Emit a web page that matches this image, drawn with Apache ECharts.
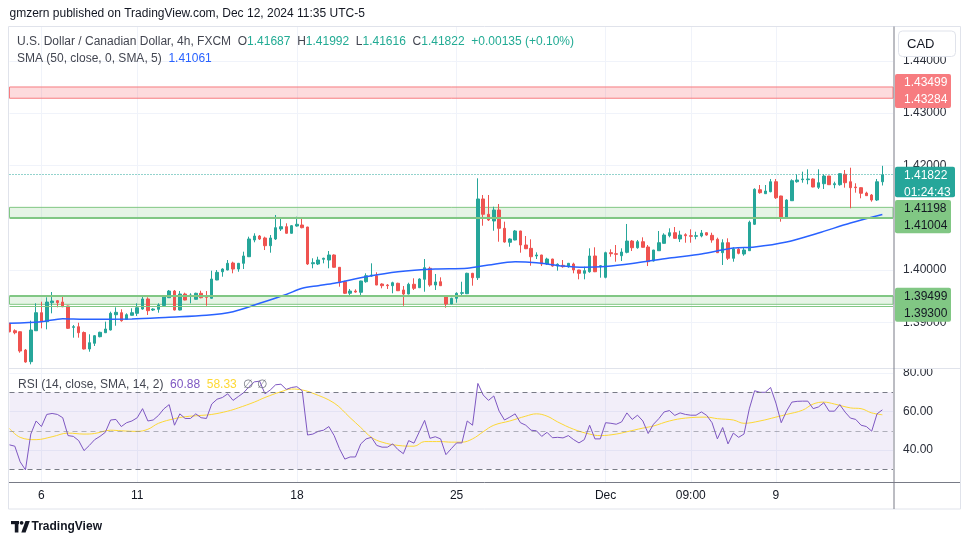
<!DOCTYPE html>
<html>
<head>
<meta charset="utf-8">
<script src="https://cdn.jsdelivr.net/npm/echarts@6/dist/echarts.min.js"></script>
<style>
html,body{margin:0;padding:0;background:#ffffff;}
#c{width:970px;height:545px;}
</style>
</head>
<body>
<div id="c"></div>
<script>
// ---------------- data ----------------
const slotCount = 167; // bar slots on the time axis (165 bars + right margin)
const categories = Array.from({length: slotCount}, (_, i) => String(i));
const tickIndex = [6, 24, 54, 84, 112, 128, 144];
const tickLabels = ['6', '11', '18', '25', 'Dec', '09:00', '9'];
const priceTicks = [1.39, 1.40, 1.41, 1.42, 1.43, 1.44];
const rsiTicks = [40, 60, 80];

const open = [1.38981,1.38839,1.38820,1.38470,1.38247,1.38839,1.39184,1.39012,1.39375,1.39413,
1.39388,1.39312,1.38904,1.38916,1.38805,1.38490,1.38599,1.38725,1.38801,1.38853,
1.39145,1.39184,1.39057,1.39134,1.39172,1.39254,1.39446,1.39235,1.39249,1.39321,
1.39470,1.39598,1.39235,1.39541,1.39503,1.39440,1.39555,1.39490,1.39459,1.39809,
1.39967,1.40000,1.40134,1.40019,1.40128,1.40254,1.40574,1.40650,1.40612,1.40465,
1.40593,1.40784,1.40828,1.40702,1.40841,1.40860,1.40822,1.40120,1.40115,1.40205,
1.40191,1.40287,1.40052,1.39776,1.39555,1.39598,1.39574,1.39776,1.39885,1.39891,
1.39732,1.39713,1.39700,1.39746,1.39618,1.39541,1.39727,1.39662,1.39822,1.40033,
1.39713,1.39776,1.39490,1.39350,1.39459,1.39555,1.39547,1.39937,1.39853,1.41358,
1.41065,1.40937,1.41147,1.40797,1.40530,1.40574,1.40746,1.40478,1.40414,1.40268,
1.40287,1.40115,1.40210,1.40076,1.40090,1.40063,1.40115,1.40000,1.39937,1.39967,
1.40268,1.40063,1.39860,1.40331,1.40312,1.40273,1.40338,1.40554,1.40426,1.40541,
1.40440,1.40172,1.40369,1.40510,1.40656,1.40713,1.40593,1.40675,1.40656,1.40644,
1.40650,1.40713,1.40663,1.40587,1.40331,1.40522,1.40224,1.40396,1.40306,1.40369,
1.40874,1.41535,1.41459,1.41497,1.41688,1.41415,1.40989,1.41325,1.41688,1.41727,
1.41727,1.41740,1.41581,1.41650,1.41797,1.41631,1.41631,1.41830,1.41688,1.41587,
1.41574,1.41472,1.41434,1.41338,1.41687];

const high = [1.38990,1.38866,1.38825,1.38490,1.39031,1.39363,1.39394,1.39478,1.39579,1.39426,
1.39490,1.39318,1.38948,1.38992,1.38825,1.38771,1.38757,1.38820,1.39012,1.39203,
1.39287,1.39249,1.39172,1.39268,1.39363,1.39503,1.39478,1.39268,1.39363,1.39490,
1.39618,1.39618,1.39598,1.39566,1.39555,1.39566,1.39604,1.39598,1.39987,1.40000,
1.40033,1.40191,1.40159,1.40135,1.40350,1.40637,1.40702,1.40669,1.40637,1.40669,
1.41052,1.40989,1.40893,1.40860,1.41019,1.41000,1.40825,1.40224,1.40254,1.40235,
1.40363,1.40300,1.40055,1.39795,1.39637,1.39631,1.39795,1.39937,1.40128,1.39956,
1.39746,1.39732,1.39776,1.39757,1.39694,1.39757,1.39841,1.39841,1.40210,1.40063,
1.39924,1.39860,1.39495,1.39470,1.39574,1.39776,1.39948,1.39945,1.41753,1.41434,
1.41434,1.41210,1.41262,1.40924,1.40606,1.40765,1.40750,1.40650,1.40587,1.40338,
1.40290,1.40235,1.40215,1.40128,1.40191,1.40135,1.40140,1.40005,1.40063,1.40415,
1.40434,1.40096,1.40350,1.40396,1.40478,1.40415,1.40880,1.40574,1.40574,1.40625,
1.40478,1.40385,1.40746,1.40702,1.40797,1.40822,1.40751,1.40702,1.40778,1.40732,
1.40765,1.40720,1.40713,1.40618,1.40587,1.40606,1.40434,1.40434,1.40434,1.40943,
1.41562,1.41625,1.41625,1.41740,1.41740,1.41420,1.41352,1.41734,1.41830,1.41880,
1.41925,1.41753,1.41925,1.41830,1.41800,1.41688,1.41849,1.41912,1.41956,1.41658,
1.41580,1.41497,1.41453,1.41740,1.41992];

const low = [1.38810,1.38771,1.38419,1.38228,1.38197,1.38835,1.38885,1.38866,1.39172,1.39287,
1.39290,1.38872,1.38706,1.38706,1.38480,1.38438,1.38547,1.38713,1.38795,1.38845,
1.38935,1.39012,1.39050,1.39130,1.39120,1.39241,1.39140,1.39216,1.39184,1.39315,
1.39465,1.39228,1.39228,1.39420,1.39363,1.39435,1.39459,1.39317,1.39455,1.39805,
1.39872,1.39995,1.39937,1.39967,1.40019,1.40250,1.40530,1.40574,1.40382,1.40331,
1.40574,1.40746,1.40695,1.40695,1.40828,1.40797,1.40096,1.40033,1.40096,1.40128,
1.40033,1.40045,1.39681,1.39541,1.39522,1.39566,1.39509,1.39757,1.39872,1.39710,
1.39650,1.39637,1.39555,1.39598,1.39317,1.39535,1.39618,1.39655,1.39585,1.39681,
1.39618,1.39695,1.39279,1.39345,1.39375,1.39522,1.39540,1.39700,1.39809,1.40847,
1.40937,1.40751,1.40541,1.40522,1.40445,1.40568,1.40331,1.40400,1.40082,1.40210,
1.40076,1.40096,1.40063,1.39987,1.40044,1.40044,1.39937,1.39822,1.39822,1.39948,
1.39960,1.39853,1.39841,1.40254,1.40159,1.40172,1.40319,1.40363,1.40407,1.40430,
1.40076,1.40165,1.40365,1.40505,1.40625,1.40600,1.40535,1.40522,1.40522,1.40587,
1.40625,1.40656,1.40522,1.40325,1.40096,1.40191,1.40159,1.40300,1.40273,1.40365,
1.40860,1.41459,1.41453,1.41486,1.41358,1.40924,1.40985,1.41320,1.41669,1.41669,
1.41639,1.41581,1.41549,1.41549,1.41625,1.41562,1.41612,1.41574,1.41180,1.41478,
1.41371,1.41415,1.41306,1.41319,1.41616];

const close = [1.38820,1.38801,1.38451,1.38241,1.38853,1.39184,1.39012,1.39388,1.39407,1.39375,
1.39298,1.38885,1.38916,1.38801,1.38490,1.38610,1.38744,1.38809,1.38872,1.39172,
1.39191,1.39031,1.39145,1.39184,1.39279,1.39446,1.39222,1.39254,1.39331,1.39484,
1.39598,1.39235,1.39541,1.39426,1.39522,1.39555,1.39470,1.39478,1.39828,1.39956,
1.40019,1.40128,1.40019,1.40128,1.40268,1.40593,1.40650,1.40593,1.40465,1.40612,
1.40809,1.40828,1.40702,1.40847,1.40874,1.40809,1.40115,1.40140,1.40191,1.40224,
1.40287,1.40052,1.39776,1.39555,1.39598,1.39579,1.39790,1.39891,1.39904,1.39713,
1.39700,1.39700,1.39757,1.39604,1.39541,1.39727,1.39650,1.39828,1.40044,1.39713,
1.39771,1.39700,1.39350,1.39459,1.39555,1.39566,1.39937,1.39853,1.41358,1.41065,
1.40956,1.41147,1.40797,1.40535,1.40593,1.40746,1.40478,1.40407,1.40254,1.40287,
1.40115,1.40210,1.40076,1.40109,1.40063,1.40128,1.40000,1.39937,1.39987,1.40268,
1.39967,1.40082,1.40331,1.40312,1.40300,1.40344,1.40554,1.40426,1.40541,1.40434,
1.40159,1.40382,1.40522,1.40669,1.40713,1.40606,1.40669,1.40656,1.40644,1.40656,
1.40707,1.40669,1.40574,1.40331,1.40522,1.40224,1.40402,1.40319,1.40382,1.40912,
1.41543,1.41478,1.41510,1.41688,1.41382,1.40989,1.41338,1.41707,1.41721,1.41740,
1.41740,1.41587,1.41669,1.41797,1.41631,1.41650,1.41841,1.41669,1.41574,1.41574,
1.41467,1.41421,1.41338,1.41687,1.41822];

// SMA(50) at selected bars
const smaIndex = [0,6,10,14,23,30,37,42,47,52,55,58,61,67,73,80,86,90,95,99,104,108,112,117,124,130,136,140,146,152,158,164];
const smaValue = [1.38981,1.39011,1.39070,1.39060,1.39063,1.39096,1.39134,1.39203,1.39363,1.39532,1.39650,1.39700,1.39746,1.39872,1.39967,1.40019,1.40033,1.40096,1.40159,1.40140,1.40076,1.40052,1.40067,1.40124,1.40229,1.40306,1.40420,1.40440,1.40535,1.40707,1.40899,1.41061];

// RSI(14)
const rsi = [42.7,42.0,33.9,29.7,48.3,55.1,52.2,58.5,59.0,58.5,
56.8,47.5,47.1,44.9,39.7,42.4,45.4,47.1,49.2,55.6,
55.9,52.2,54.2,55.1,56.8,61.5,55.1,55.6,58.0,61.4,
63.6,52.9,58.8,56.4,56.4,58.8,56.8,56.4,63.9,66.4,
67.3,69.2,65.8,67.8,69.8,72.9,75.4,75.8,69.2,71.2,
73.9,74.2,71.5,72.5,72.9,70.8,47.8,48.3,49.7,50.3,
52.2,47.5,40.7,35.3,36.4,36.4,43.2,45.8,46.6,42.4,
41.5,41.5,43.2,40.2,38.1,44.9,43.6,49.5,55.4,46.1,
46.9,45.8,37.6,40.7,43.7,43.7,55.1,52.9,74.6,68.6,
65.8,68.1,60.2,55.6,57.1,58.8,54.2,52.9,50.3,50.0,
47.1,49.2,46.4,46.6,46.3,47.5,45.4,43.7,45.4,52.9,
45.8,45.8,54.2,53.9,53.4,54.6,59.3,55.9,58.1,55.1,
48.6,53.4,56.3,59.8,60.5,58.0,59.3,58.5,58.1,58.1,
59.8,58.0,54.2,45.8,51.7,43.2,48.8,46.6,48.3,61.4,
70.8,70.0,70.0,72.5,64.4,54.2,60.2,64.9,65.3,65.4,
65.4,61.5,62.4,64.6,60.2,60.2,63.6,59.7,56.6,55.9,
52.9,52.2,49.8,58.8,60.88];

// RSI-based SMA(14), read at selected bars
const rsiMaIndex = [0,2,5,8,11,14,16,19,21,24,26,28,31,33,36,38,41,43,46,48,51,53,55,57,61,64,66,68,70,73,76,78,81,83,85,87,89,91,94,97,99,101,103,106,109,111,114,116,119,121,124,127,131,133,136,138,141,144,146,149,151,153,155,158,160,162,164];
const rsiMaValue = [51.2,46.6,45.4,46.9,48.8,48.3,48.6,50.3,50.0,49.7,50.8,53.9,56.3,57.3,58.0,58.5,60.2,61.9,64.9,67.3,70.3,71.7,71.2,69.5,64.4,56.8,51.7,46.6,44.1,42.4,42.0,44.4,44.4,44.1,44.1,45.8,49.5,52.9,55.1,57.6,58.8,57.6,54.6,50.8,48.3,47.5,48.3,49.5,51.4,52.5,55.1,56.6,57.1,56.3,55.6,53.9,55.1,57.1,58.5,60.7,63.9,64.9,63.9,61.9,61.5,59.3,58.33];

// horizontal zones and levels
const redZone = [1.43499, 1.43284];
const greenZoneHigh = [1.41198, 1.41004];
const greenZoneLow = [1.39499, 1.39300];
const greenZoneLowInner = 1.39344;
const smaLast = 1.41061;
const rsiMaLast = 58.33;
const countdown = '01:24:43';

// ---------------- chart ----------------
const FONT = '"Liberation Sans", Arial, sans-serif';
const UP = '#26a69a', DOWN = '#ef5350';
const GRIDC = '#f0f3fa';
const candleData = open.map((o, i) => [o, close[i], low[i], high[i]]);
const last = open.length - 1;

const vSplit = {show: true, interval: (i) => tickIndex.indexOf(i) >= 0, lineStyle: {color: GRIDC, width: 1}};

const option = {
  animation: false,
  backgroundColor: '#ffffff',
  textStyle: {fontFamily: FONT},
  grid: [
    {left: 9.5, top: 27, width: 883.5, height: 341.5},
    {left: 9.5, top: 368.5, width: 883.5, height: 114}
  ],
  xAxis: [
    {type: 'category', gridIndex: 0, data: categories, boundaryGap: false,
     axisLine: {show: false}, axisTick: {show: false}, axisLabel: {show: false}, splitLine: vSplit},
    {type: 'category', gridIndex: 1, data: categories, boundaryGap: false,
     axisLine: {show: false}, axisTick: {show: false},
     axisLabel: {show: true, interval: (i) => tickIndex.indexOf(i) >= 0,
       formatter: (v, i) => { const j = tickIndex.indexOf(Number(v)); return j >= 0 ? tickLabels[j] : ''; },
       color: '#131722', fontSize: 12, fontFamily: FONT, margin: 7},
     splitLine: vSplit}
  ],
  yAxis: [
    {type: 'value', gridIndex: 0, position: 'right', min: 1.38117, max: 1.44646,
     axisLine: {show: false}, axisTick: {show: false, customValues: priceTicks},
     axisLabel: {customValues: priceTicks, formatter: (v) => v.toFixed(5), color: '#2a2e39', fontSize: 12, fontFamily: FONT, margin: 10},
     splitLine: {show: true, lineStyle: {color: GRIDC, width: 1}}},
    {type: 'value', gridIndex: 1, position: 'right', min: 23.14, max: 82.36,
     axisLine: {show: false}, axisTick: {show: false, customValues: rsiTicks},
     axisLabel: {customValues: rsiTicks, formatter: (v) => v.toFixed(2), color: '#2a2e39', fontSize: 12, fontFamily: FONT, margin: 10},
     splitLine: {show: true, lineStyle: {color: GRIDC, width: 1}}}
  ],
  series: [
    {
      type: 'candlestick', name: 'USDCAD', xAxisIndex: 0, yAxisIndex: 0,
      data: candleData, barWidth: 3, clip: true,
      itemStyle: {color: UP, color0: DOWN, borderColor: UP, borderColor0: DOWN, borderWidth: 1},
      markArea: {
        silent: true,
        data: [
          [{yAxis: redZone[1], itemStyle: {color: 'rgba(242,54,69,0.18)', borderColor: '#f77c80', borderWidth: 1}}, {yAxis: redZone[0]}],
          [{yAxis: greenZoneHigh[1], itemStyle: {color: 'rgba(76,175,80,0.14)', borderColor: '#81c784', borderWidth: 1}}, {yAxis: greenZoneHigh[0]}],
          [{yAxis: greenZoneLowInner, itemStyle: {color: 'rgba(76,175,80,0.14)', borderColor: '#81c784', borderWidth: 1}}, {yAxis: greenZoneLow[0]}]
        ]
      },
      markLine: {
        silent: true, symbol: ['none', 'none'], label: {show: false}, precision: 6,
        data: [
          {yAxis: greenZoneHigh[1], lineStyle: {color: '#81c784', width: 2, type: 'solid'}},
          {yAxis: greenZoneLow[0], lineStyle: {color: '#81c784', width: 2, type: 'solid'}},
          {yAxis: greenZoneLow[1], lineStyle: {color: '#81c784', width: 1, type: 'solid'}},
          {yAxis: close[last], lineStyle: {color: UP, width: 1, type: [1, 2]}}
        ]
      }
    },
    {
      type: 'line', name: 'SMA', xAxisIndex: 0, yAxisIndex: 0,
      data: smaIndex.map((k, i) => [k, smaValue[i]]),
      smooth: 0.3, showSymbol: false, symbol: 'none',
      lineStyle: {color: '#2962ff', width: 1.5}, z: 3
    },
    {
      type: 'line', name: 'RSI', xAxisIndex: 1, yAxisIndex: 1,
      data: rsi, showSymbol: false, symbol: 'none',
      lineStyle: {color: '#7e57c2', width: 1}, z: 4,
      markArea: {silent: true, data: [[{yAxis: 30, itemStyle: {color: 'rgba(126,87,194,0.1)'}}, {yAxis: 70}]]},
      markLine: {
        silent: true, symbol: ['none', 'none'], label: {show: false}, precision: 4,
        data: [
          {yAxis: 70, lineStyle: {color: '#787b86', width: 1, type: [5, 4]}},
          {yAxis: 50, lineStyle: {color: 'rgba(120,123,134,0.55)', width: 1, type: [5, 4]}},
          {yAxis: 30, lineStyle: {color: '#787b86', width: 1, type: [5, 4]}}
        ]
      }
    },
    {
      type: 'line', name: 'RSI MA', xAxisIndex: 1, yAxisIndex: 1,
      data: rsiMaIndex.map((k, i) => [k, rsiMaValue[i]]),
      smooth: 0.4, showSymbol: false, symbol: 'none',
      lineStyle: {color: '#fdd835', width: 1}, z: 3
    }
  ]
};

const chart = echarts.init(document.getElementById('c'), null, {renderer: 'canvas', width: 970, height: 545});
chart.setOption(option);

// ---------------- overlay texts / price labels ----------------
const yOf = (v) => chart.convertToPixel({yAxisIndex: 0}, v);
const f5 = (v) => v.toFixed(5);
const chg = close[last] - close[last - 1];
const chgPct = chg / close[last - 1] * 100;

function txt(x, y, text, size, color, extra) {
  return Object.assign({type: 'text', x: x, y: y, z: 100, silent: true,
    style: {text: text, fontSize: size, fontFamily: FONT, fill: color, verticalAlign: 'middle', align: 'left'}}, extra || {});
}
function box(top, h, w, fill, lines, textColor) {
  const els = [{type: 'rect', z: 100, silent: true, shape: {x: 895, y: top, width: w, height: h, r: 2}, style: {fill: fill}}];
  lines.forEach((t, i) => els.push(txt(904, top + 8.5 + i * 17, t, 12, textColor)));
  return els;
}

const g = [];
// frame & separators
g.push({type: 'rect', z: 90, silent: true, shape: {x: 8.5, y: 26.5, width: 952, height: 482.5}, style: {fill: 'none', stroke: '#e0e3eb', lineWidth: 1}});
g.push({type: 'rect', z: 92, silent: true, shape: {x: 895, y: 361, width: 64, height: 7.5}, style: {fill: '#ffffff'}});
g.push({type: 'line', z: 93, silent: true, shape: {x1: 9, y1: 368.5, x2: 960, y2: 368.5}, style: {stroke: '#e0e3eb', lineWidth: 1}});
g.push({type: 'line', z: 93, silent: true, shape: {x1: 9, y1: 482.5, x2: 960, y2: 482.5}, style: {stroke: '#787b86', lineWidth: 1}});
g.push({type: 'line', z: 93, silent: true, shape: {x1: 894, y1: 26.5, x2: 894, y2: 509}, style: {stroke: '#787b86', lineWidth: 1}});

// header
g.push(txt(9.5, 14, 'gmzern published on TradingView.com, Dec 12, 2024 11:35 UTC-5', 12, '#131722'));

// legend line 1
g.push({type: 'text', x: 17, y: 42, z: 100, silent: true, style: {
  text: '{t|U.S. Dollar / Canadian Dollar, 4h, FXCM}  {k|O}{v|' + f5(open[last]) + '}  {k|H}{v|' + f5(high[last]) + '}  {k|L}{v|' + f5(low[last]) + '}  {k|C}{v|' + f5(close[last]) + '}  {v|+' + chg.toFixed(5) + ' (+' + chgPct.toFixed(2) + '%)}',
  fontSize: 12, fontFamily: FONT, verticalAlign: 'middle', fill: '#434651',
  rich: {t: {fill: '#434651', fontSize: 12, fontFamily: FONT}, k: {fill: '#434651', fontSize: 12, fontFamily: FONT}, v: {fill: '#22ab94', fontSize: 12, fontFamily: FONT}}
}});
// SMA legend
g.push({type: 'text', x: 17, y: 59, z: 100, silent: true, style: {
  text: '{t|SMA (50, close, 0, SMA, 5)}  {v|' + f5(smaLast) + '}',
  fontSize: 12, fontFamily: FONT, verticalAlign: 'middle', fill: '#434651',
  rich: {t: {fill: '#434651', fontSize: 12, fontFamily: FONT}, v: {fill: '#2962ff', fontSize: 12, fontFamily: FONT}}
}});
// RSI legend
g.push({type: 'text', x: 18, y: 385, z: 100, silent: true, style: {
  text: '{t|RSI (14, close, SMA, 14, 2)}  {r|' + rsi[last].toFixed(2) + '}  {y|' + rsiMaLast.toFixed(2) + '}  {n|\u2205 \u2205}',
  fontSize: 12, fontFamily: FONT, verticalAlign: 'middle', fill: '#434651',
  rich: {t: {fill: '#434651', fontSize: 12, fontFamily: FONT}, r: {fill: '#7e57c2', fontSize: 12, fontFamily: FONT},
         y: {fill: '#fdd835', fontSize: 12, fontFamily: FONT}, n: {fill: '#787b86', fontSize: 12, fontFamily: FONT}}
}});

// CAD button
g.push({type: 'rect', z: 100, silent: true, shape: {x: 898.5, y: 31, width: 57, height: 25.5, r: 4}, style: {fill: '#ffffff', stroke: '#e0e3eb', lineWidth: 1}});
g.push(txt(907, 44, 'CAD', 13, '#131722'));

// price label boxes
box(yOf(redZone[0]) - 13, 34, 56, '#f77c80', [f5(redZone[0]), f5(redZone[1])], '#ffffff').forEach(e => g.push(e));
box(yOf(close[last]) - 8, 30.6, 60, UP, [f5(close[last]), countdown], '#ffffff').forEach(e => g.push(e));
box(yOf(greenZoneHigh[0]) - 7.3, 33.3, 56, '#81c784', [f5(greenZoneHigh[0]), f5(greenZoneHigh[1])], '#131722').forEach(e => g.push(e));
box(yOf(greenZoneLow[0]) - 8.5, 34, 56, '#81c784', [f5(greenZoneLow[0]), f5(greenZoneLow[1])], '#131722').forEach(e => g.push(e));

// TradingView logo
g.push({type: 'rect', z: 100, silent: true, shape: {x: 11, y: 521, width: 8, height: 3.2}, style: {fill: '#131722'}});
g.push({type: 'rect', z: 100, silent: true, shape: {x: 14.8, y: 521, width: 3.6, height: 11.5}, style: {fill: '#131722'}});
g.push({type: 'circle', z: 100, silent: true, shape: {cx: 21.6, cy: 522.8, r: 1.9}, style: {fill: '#131722'}});
g.push({type: 'polygon', z: 100, silent: true, shape: {points: [[25.5, 521], [29.8, 521], [25.6, 532.5], [21.3, 532.5]]}, style: {fill: '#131722'}});
g.push({type: 'text', x: 31.5, y: 527, z: 100, silent: true, style: {text: 'TradingView', fontSize: 12, fontWeight: 'bold', fontFamily: FONT, fill: '#131722', verticalAlign: 'middle'}});

chart.setOption({graphic: {elements: g}});
</script>
</body>
</html>
